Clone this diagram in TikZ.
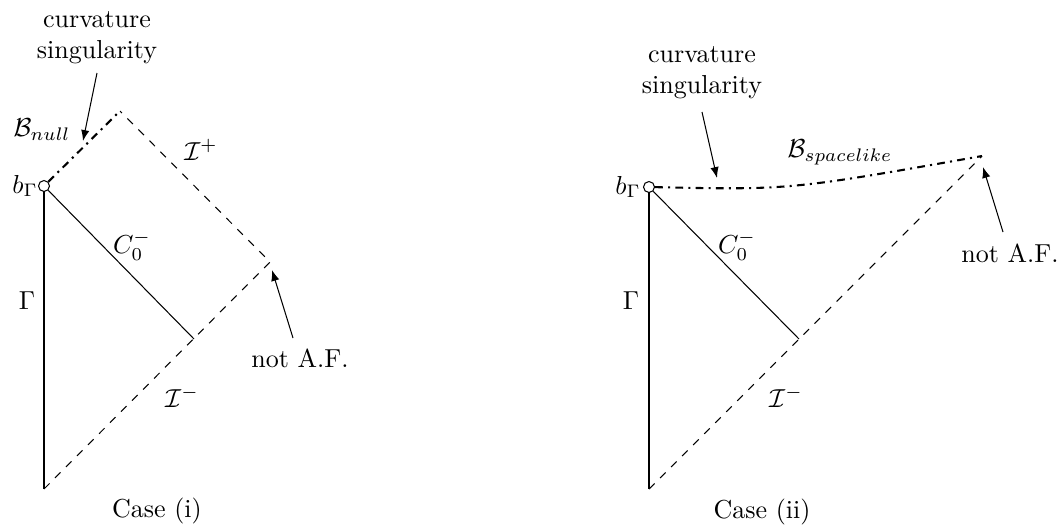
\documentclass[tikz,border=0pt]{standalone}
\usetikzlibrary{arrows.meta}
\begin{document}
\begin{tikzpicture}[x=0.3846pt,y=-0.3846pt,
  bdot/.style={circle,draw,fill=white,inner sep=0pt,minimum size=11*0.3846pt},
  scri/.style={dashed},
  sing/.style={thick,dash dot},
  ann/.style={-{Latex[length=4.2pt,width=3.2pt]}},
  lbl/.style={inner sep=0pt}]
\useasboundingbox (0,0) rectangle (1062,527);

% ---------- Case (i) ----------
\coordinate (botL) at (44,489);
\coordinate (topL) at (120,111);
\coordinate (rightL) at (270,262);
\coordinate (c0L) at (194,339);
\node[bdot] (bL) at (44,186) {};
\draw (bL) -- (botL);
\draw (bL) -- (c0L);
\draw[scri] (botL) -- (rightL) -- (topL);
\draw[sing] (bL) -- (topL);

\node[lbl] (bLlab) at (25,186) {$b_\Gamma$};
\node[lbl] (GL) at (27,301) {$\Gamma$};
\node[lbl] (C0L) at (132,246) {$C_0^-$};
\node[lbl] (IpL) at (201,150) {$\mathcal{I}^+$};
\node[lbl] (ImL) at (182,397) {$\mathcal{I}^-$};
\node[lbl] (BnL) at (42,130) {$\mathcal{B}_{null}$};
\node[align=center,lbl] (csL) at (97,38) {curvature\\singularity};
\coordinate (csLs) at (97,73);
\coordinate (csLe) at (83,141);
\draw[ann] (csLs) -- (csLe);
\node[lbl] (nafL) at (300,358) {not A.F.};
\coordinate (nafLs) at (293,338);
\coordinate (nafLe) at (272,270);
\draw[ann] (nafLs) -- (nafLe);
\node[lbl] (caseI) at (157,511) {Case (i)};

% ---------- Case (ii) ----------
\coordinate (botR) at (649,489);
\coordinate (topR) at (982,156);
\coordinate (c0R) at (799,339);
\node[bdot] (bR) at (649,187) {};
\draw (bR) -- (botR);
\draw (bR) -- (c0R);
\draw[scri] (botR) -- (topR);
\draw[sing] (bR) .. controls (790,190) .. (topR);

\node[lbl] (bRlab) at (628,187) {$b_\Gamma$};
\node[lbl] (GR) at (631,301) {$\Gamma$};
\node[lbl] (C0R) at (737,246) {$C_0^-$};
\node[lbl] (ImR) at (786,397) {$\mathcal{I}^-$};
\node[lbl] (BsR) at (840,152) {$\mathcal{B}_{spacelike}$};
\node[align=center,lbl] (csR) at (702,73) {curvature\\singularity};
\coordinate (csRs) at (702,112);
\coordinate (csRe) at (717,178);
\draw[ann] (csRs) -- (csRe);
\node[lbl] (nafR) at (1010,253) {not A.F.};
\coordinate (nafRs) at (1003,232);
\coordinate (nafRe) at (983,167);
\draw[ann] (nafRs) -- (nafRe);
\node[lbl] (caseII) at (762,512) {Case (ii)};
\end{tikzpicture}
\end{document}
